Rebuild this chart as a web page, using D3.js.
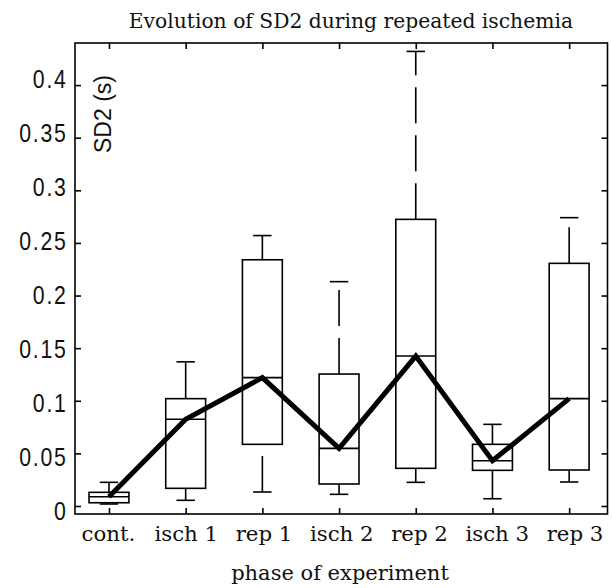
<!DOCTYPE html>
<html>
<head>
<meta charset="utf-8">
<script src="https://cdn.jsdelivr.net/npm/d3@7"></script>
<style>
  body { margin: 0; background: #fff; }
  svg { display: block; }
</style>
</head>
<body>
<div id="graph"></div>
<script>
// Datos
var phases = ["cont.", "isch 1", "rep 1", "isch 2", "rep 2", "isch 3", "rep 3"];
var lowerWhisker = [0.0019, 0.0054, 0.0133, 0.0111, 0.0225, 0.0069, 0.0228];
var q1 = [0.0031, 0.0168, 0.0586, 0.0209, 0.0358, 0.0339, 0.0342];
var medians = [0.0088, 0.0825, 0.1220, 0.0548, 0.1425, 0.0430, 0.1020];
var q3 = [0.0130, 0.1020, 0.2340, 0.1254, 0.2724, 0.0586, 0.2306];
var upperWhisker = [0.0225, 0.1370, 0.2570, 0.2132, 0.4320, 0.0776, 0.2740];
var yTicks = [0, 0.05, 0.1, 0.15, 0.2, 0.25, 0.3, 0.35, 0.4];
var yTickLabels = ["0", "0.05", "0.1", "0.15", "0.2", "0.25", "0.3", "0.35", "0.4"];

var width = 613;
var height = 588;
var plotLeft = 75, plotRight = 607.5, plotTop = 43, plotBottom = 514;

var boxes = phases.map(function (p, i) {
    return {
        pos: i + 1,
        name: p,
        lo: lowerWhisker[i],
        q1: q1[i],
        med: medians[i],
        q3: q3[i],
        hi: upperWhisker[i]
    };
});

var svg = d3.select('#graph')
    .append('svg')
    .attr('width', width)
    .attr('height', height);

// Escalas
var x = d3.scaleLinear().domain([0.557, 7.5]).range([plotLeft, plotRight]);
var y = d3.scaleLinear().domain([-0.0076, 0.44]).range([plotBottom, plotTop]);
// las etiquetas del original quedan algo más separadas que las marcas
var xLab = d3.scaleLinear().domain([1, 7]).range([108.5, 575]);
var yLab = d3.scaleLinear().domain([0, 0.4]).range([520, 88]);

var positions = boxes.map(function (d) { return d.pos; });

// Ejes con marcas hacia dentro en los cuatro lados
var axes = [
    { a: d3.axisBottom(x).tickValues(positions), t: "translate(0," + plotBottom + ")" },
    { a: d3.axisTop(x).tickValues(positions), t: "translate(0," + plotTop + ")" },
    { a: d3.axisLeft(y).tickValues(yTicks), t: "translate(" + plotLeft + ",0)" },
    { a: d3.axisRight(y).tickValues(yTicks), t: "translate(" + plotRight + ",0)" }
];
axes.forEach(function (ax) {
    var g = svg.append("g")
        .attr("transform", ax.t)
        .call(ax.a.tickSizeInner(-6).tickSizeOuter(0).tickFormat(""));
    g.select(".domain").remove();
    g.selectAll("line").attr("stroke", "#000").attr("stroke-width", 1.6);
    g.selectAll("text").remove();
});

// Marco
svg.append("rect")
    .attr("x", plotLeft)
    .attr("y", plotTop)
    .attr("width", plotRight - plotLeft)
    .attr("height", plotBottom - plotTop)
    .attr("fill", "none")
    .attr("stroke", "#000")
    .attr("stroke-width", 1.6);

// Cajas
var boxHalf = 0.26;
var capHalf = 0.12;
var bg = svg.append("g")
    .attr("fill", "none")
    .attr("stroke", "#000")
    .attr("stroke-width", 1.6);

// bigotes discontinuos, dibujados de abajo hacia arriba
bg.selectAll(".wup")
    .data(boxes)
    .enter()
    .append("line")
    .attr("x1", function (d) { return x(d.pos); })
    .attr("x2", function (d) { return x(d.pos); })
    .attr("y1", function (d) { return y(d.q3); })
    .attr("y2", function (d) { return y(d.hi); })
    .attr("stroke-dasharray", "36,12");

bg.selectAll(".wlo")
    .data(boxes)
    .enter()
    .append("line")
    .attr("x1", function (d) { return x(d.pos); })
    .attr("x2", function (d) { return x(d.pos); })
    .attr("y1", function (d) { return y(d.lo); })
    .attr("y2", function (d) { return y(d.q1); })
    .attr("stroke-dasharray", "36,12");

["hi", "lo"].forEach(function (k) {
    bg.selectAll(".cap-" + k)
        .data(boxes)
        .enter()
        .append("line")
        .attr("x1", function (d) { return x(d.pos - capHalf); })
        .attr("x2", function (d) { return x(d.pos + capHalf); })
        .attr("y1", function (d) { return y(d[k]); })
        .attr("y2", function (d) { return y(d[k]); });
});

bg.selectAll("rect")
    .data(boxes)
    .enter()
    .append("rect")
    .attr("x", function (d) { return x(d.pos - boxHalf); })
    .attr("y", function (d) { return y(d.q3); })
    .attr("width", function (d) { return x(d.pos + boxHalf) - x(d.pos - boxHalf); })
    .attr("height", function (d) { return y(d.q1) - y(d.q3); });

bg.selectAll(".med")
    .data(boxes)
    .enter()
    .append("line")
    .attr("x1", function (d) { return x(d.pos - boxHalf); })
    .attr("x2", function (d) { return x(d.pos + boxHalf); })
    .attr("y1", function (d) { return y(d.med); })
    .attr("y2", function (d) { return y(d.med); });

// Línea gruesa que une las medianas
var line = d3.line()
    .x(function (d) { return x(d.pos); })
    .y(function (d) { return y(d.med); });

svg.append("path")
    .datum(boxes)
    .attr("d", line)
    .attr("fill", "none")
    .attr("stroke", "#000")
    .attr("stroke-width", 5)
    .attr("stroke-linejoin", "miter");

// Etiquetas del eje Y
svg.append("g")
    .selectAll("g")
    .data(yTicks)
    .enter()
    .append("g")
    .attr("transform", function (d) { return "translate(67.5," + yLab(d) + ")"; })
    .append("text")
    .attr("transform", "scale(0.85,1)")
    .attr("text-anchor", "end")
    .style("font-family", "'Liberation Sans', Arial, sans-serif")
    .style("font-size", "25px")
    .style("letter-spacing", "2px")
    .attr("fill", "#111")
    .text(function (d, i) { return yTickLabels[i]; });

// Etiquetas del eje X
svg.append("g")
    .selectAll("text")
    .data(boxes)
    .enter()
    .append("text")
    .attr("x", function (d) { return xLab(d.pos); })
    .attr("y", 540.7)
    .attr("text-anchor", "middle")
    .style("font-family", "'DejaVu Serif', serif")
    .style("font-size", "21.3px")
    .attr("fill", "#111")
    .text(function (d) { return d.name; });

// Títulos
svg.append("text")
    .attr("x", 573)
    .attr("y", 28.3)
    .attr("text-anchor", "end")
    .style("font-family", "'DejaVu Serif', serif")
    .style("font-size", "20.3px")
    .attr("fill", "#111")
    .text("Evolution of SD2 during repeated ischemia");

svg.append("text")
    .attr("x", 340)
    .attr("y", 580)
    .attr("text-anchor", "middle")
    .style("font-family", "'DejaVu Serif', serif")
    .style("font-size", "21px")
    .attr("fill", "#111")
    .text("phase of experiment");

svg.append("text")
    .attr("transform", "translate(110.5,114) rotate(-90)")
    .attr("text-anchor", "middle")
    .style("font-family", "'Liberation Sans', Arial, sans-serif")
    .style("font-size", "23px")
    .attr("fill", "#111")
    .text("SD2 (s)");
</script>
</body>
</html>
